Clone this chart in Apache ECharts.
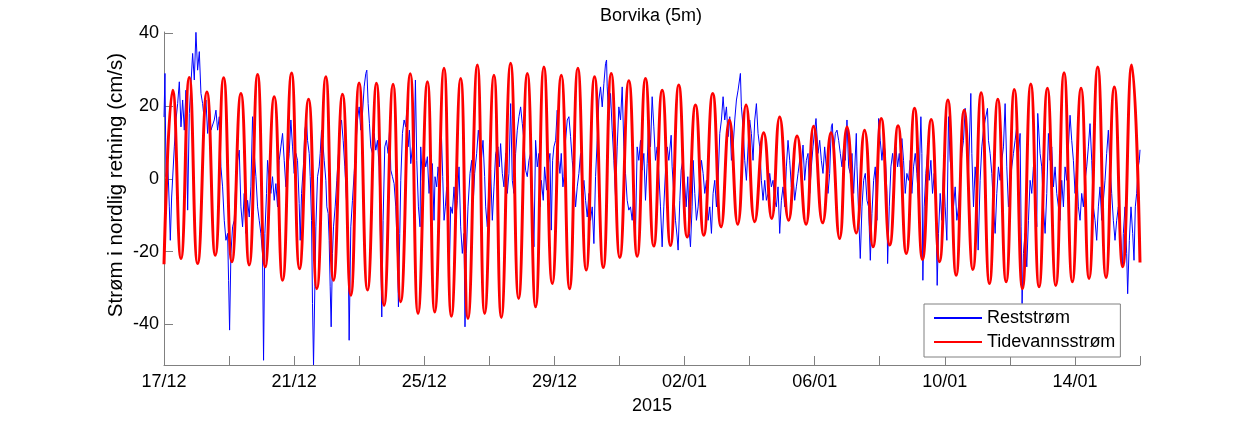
<!DOCTYPE html>
<html>
<head>
<meta charset="utf-8">
<script src="https://cdn.jsdelivr.net/npm/echarts@6/dist/echarts.min.js"></script>
<style>
  html, body { margin: 0; padding: 0; background: #fff; }
  #chart { width: 1259px; height: 421px; }
</style>
</head>
<body>
<div id="chart"></div>
<script>
// x is days since 17/12/2014 00:00, y is cm/s
const xTickDays = [0, 2, 4, 6, 8, 10, 12, 14, 16, 18, 20, 22, 24, 26, 28, 30]
const xLabelDays = [0, 4, 8, 12, 16, 20, 24, 28]
const xTickLabels = ['17/12', '21/12', '25/12', '29/12', '02/01', '06/01', '10/01', '14/01']
const yTickValues = [-40, -20, 0, 20, 40]

// tidevannsstrøm: turning points of the tidal curve [day, cm/s]
const tidePoints = [
  [0, -23.5], [0.267, 24.4], [0.522, -21.9], [0.777, 27.9], [1.035, -23.3], [1.320, 23.9],
  [1.575, -21.0], [1.833, 27.8], [2.088, -22.8], [2.364, 23.5], [2.619, -23.7], [2.877, 28.7],
  [3.111, -24.2], [3.387, 22.6], [3.645, -27.9], [3.921, 29.1], [4.167, -24.7], [4.443, 21.9],
  [4.698, -30.2], [4.974, 28.1], [5.211, -27.9], [5.487, 23.3], [5.742, -32.0], [5.997, 26.4],
  [6.255, -30.6], [6.531, 26.3], [6.765, -34.8], [7.041, 26.0], [7.277, -33.8], [7.569, 28.9],
  [7.809, -37.0], [8.097, 26.7], [8.321, -36.6], [8.607, 30.4], [8.834, -37.8], [9.120, 27.6],
  [9.344, -38.4], [9.632, 31.3], [9.857, -37.0], [10.142, 28.5], [10.369, -38.1], [10.655, 31.8],
  [10.901, -32.9], [11.168, 29.0], [11.423, -35.2], [11.678, 30.8], [11.935, -28.8], [12.212, 28.5],
  [12.467, -30.2], [12.722, 30.4], [12.979, -25.1], [13.234, 28.1], [13.502, -24.4], [13.747, 29.0],
  [14.011, -21.6], [14.288, 27.0], [14.545, -21.3], [14.800, 27.6], [15.055, -18.5], [15.313, 24.4],
  [15.568, -18.3], [15.823, 25.8], [16.081, -16.0], [16.336, 20.3], [16.591, -15.5], [16.867, 23.5],
  [17.125, -13.2], [17.380, 16.2], [17.635, -12.5], [17.892, 20.3], [18.157, -11.8], [18.433, 12.7],
  [18.679, -10.9], [18.924, 17.0], [19.201, -11.4], [19.458, 11.8], [19.735, -12.5], [19.968, 14.5],
  [20.245, -12.1], [20.502, 12.7], [20.767, -16.4], [20.994, 14.3], [21.279, -14.9], [21.534, 13.4],
  [21.792, -18.7], [22.047, 16.6], [22.308, -18.2], [22.563, 14.6], [22.815, -20.5], [23.070, 19.4],
  [23.315, -22.2], [23.582, 16.3], [23.837, -22.8], [24.095, 21.7], [24.350, -26.5], [24.596, 18.9],
  [24.862, -24.9], [25.117, 23.7], [25.373, -28.8], [25.630, 21.9], [25.885, -28.3], [26.137, 24.6],
  [26.386, -30.2], [26.643, 26.1], [26.898, -29.7], [27.153, 24.9], [27.411, -29.3], [27.666, 29.2],
  [27.921, -28.3], [28.188, 24.9], [28.434, -27.4], [28.701, 30.8], [28.956, -27.1], [29.211, 25.3],
  [29.468, -24.2], [29.745, 31.3], [30.0, -23.0]
]

// reststrøm [day, cm/s]
const restPoints = [
  [0, 17], [0.03, 29], [0.061, 0.6], [0.113, 5.1], [0.164, -7.7], [0.194, -16.9], [0.235, -5.0],
  [0.317, 8.8], [0.368, 16.2], [0.420, 20.7], [0.471, 26.7], [0.522, 14.3], [0.573, 21.7],
  [0.624, 13.4], [0.675, 24.4], [0.727, -8.6], [0.778, 18.0], [0.829, 26.2], [0.880, 34.5],
  [0.931, 27.2], [0.982, 40.3], [1.033, 29.9], [1.085, 35.0], [1.136, 23.5], [1.187, 20.7],
  [1.238, 16.2], [1.289, 21.7], [1.341, 12.5], [1.392, 19.8], [1.443, 13.4], [1.545, 16.2],
  [1.597, 18.9], [1.648, 13.4], [1.699, 17.1], [1.750, 3.3], [1.801, -2.2], [1.852, -11.4],
  [1.904, -16.9], [1.955, -15.0], [1.985, -27.9], [2.016, -41.6], [2.057, -20.5], [2.108, -13.2],
  [2.159, -11.4], [2.211, -0.4], [2.262, 5.1], [2.313, 7.9], [2.364, -7.7], [2.415, -13.2],
  [2.466, -4.0], [2.518, -15.0], [2.569, -5.9], [2.620, -10.5], [2.671, -2.2], [2.722, 17.1],
  [2.774, 7.0], [2.825, 0.6], [2.876, -7.7], [2.927, -11.4], [2.978, -15.0], [3.029, -20.5],
  [3.060, -49.9], [3.101, -15.0], [3.152, -4.0], [3.183, 5.1], [3.234, -0.4], [3.285, -4.0],
  [3.336, 0.6], [3.388, -5.9], [3.439, -1.3], [3.490, -7.7], [3.541, 5.1], [3.592, 8.8],
  [3.644, 12.5], [3.695, 5.1], [3.746, -2.2], [3.797, 1.5], [3.848, 7.0], [3.900, 16.2],
  [3.951, 8.8], [4.002, 1.5], [4.053, 7.0], [4.104, 5.1], [4.155, -6.8],
  [4.187, -16.9], [4.228, -4.0], [4.289, 4.2], [4.330, 13.4], [4.381, 16.2], [4.412, 10.6],
  [4.463, 7.0], [4.494, 0.6], [4.535, -11.4], [4.565, -34.3], [4.596, -51.2], [4.637, -29.7],
  [4.668, -13.2], [4.719, 0.6], [4.770, 3.3], [4.801, 7.0], [4.842, 13.4], [4.893, 8.8],
  [4.924, 5.1], [4.975, -0.4], [5.005, -7.7], [5.046, -9.5], [5.077, -16.9], [5.108, -29.7],
  [5.138, -40.7], [5.179, -20.5], [5.210, -13.2], [5.261, -7.7], [5.312, -0.4], [5.364, 7.0],
  [5.415, 14.3], [5.456, 16.2], [5.507, 10.6], [5.558, 3.3], [5.599, -4.0], [5.640, -11.4],
  [5.660, -18.7], [5.691, -44.4], [5.742, -13.2], [5.793, -5.9], [5.845, 1.5], [5.896, 8.8],
  [5.947, 16.2], [5.998, 19.8], [6.049, 13.4], [6.101, 18.0], [6.152, 25.3], [6.203, 29.0],
  [6.234, 29.9], [6.275, 20.7], [6.315, 15.2], [6.356, 8.8], [6.408, 7.0], [6.459, 12.5],
  [6.510, 7.9], [6.561, 10.6], [6.612, 3.3], [6.663, -20.5], [6.694, -38.0], [6.735, -11.4],
  [6.786, 8.8], [6.837, 10.6], [6.889, 7.0], [6.940, 14.3], [6.971, 2.4], [7.022, 0.6],
  [7.073, -1.3], [7.124, -7.7], [7.175, -20.5], [7.206, -35.2], [7.247, -15.0], [7.278, -0.4],
  [7.329, 12.5], [7.380, 16.2], [7.431, 14.3], [7.462, 18.9], [7.503, 8.8], [7.544, 13.4],
  [7.585, 4.2], [7.636, 8.8], [7.687, 5.1], [7.728, 27.2], [7.769, 5.1], [7.820, -7.7],
  [7.871, -13.2],
  [7.891, 8.8], [7.942, -0.4], [7.993, 7.0], [8.045, 3.3], [8.096, 6.1], [8.147, -4.0],
  [8.198, 2.4], [8.249, 4.2], [8.300, -11.4], [8.331, 0.6], [8.382, -2.2], [8.423, 3.3],
  [8.485, -0.4], [8.526, 12.5], [8.567, 0.6], [8.608, -11.4], [8.648, -7.7], [8.689, -2.2],
  [8.730, -13.2], [8.761, -29.7], [8.812, -7.7], [8.863, -9.5], [8.915, -2.2], [8.966, -11.4],
  [9.017, -5.9], [9.068, 3.3], [9.119, -13.2], [9.170, -20.5], [9.222, -15.0], [9.252, -40.7],
  [9.293, -20.5], [9.344, -7.7], [9.406, 1.5], [9.457, 5.1], [9.508, -5.9], [9.549, 1.5],
  [9.611, 7.0], [9.662, 13.4], [9.713, 8.8], [9.754, 5.1], [9.805, 10.6], [9.856, 0.6],
  [9.887, -7.7], [9.938, -13.2], [9.979, -4.0], [10.040, 2.4], [10.092, -11.4], [10.143, -2.2],
  [10.194, 7.0], [10.266, 8.8], [10.306, 3.3], [10.347, 9.7], [10.399, 1.5], [10.450, -2.2],
  [10.501, 7.0], [10.552, -4.0], [10.603, 1.5], [10.655, 20.7], [10.706, -0.4], [10.757, -4.0],
  [10.808, 7.0], [10.859, 13.4], [10.910, 17.1], [10.962, 19.8], [11.013, 15.2], [11.064, 10.6],
  [11.115, 2.4], [11.166, 0.6], [11.217, 5.1], [11.269, 7.0], [11.320, -4.0], [11.371, -18.7],
  [11.422, 10.6], [11.473, 3.3], [11.524, 7.0],
  [11.556, -7.7], [11.597, -0.4], [11.658, -5.9], [11.699, 3.3], [11.760, -3.1], [11.801, 3.3],
  [11.863, 7.0], [11.904, -14.1], [11.945, 5.1], [11.985, 8.8], [12.037, 10.6], [12.088, 18.9],
  [12.129, 5.1], [12.170, 1.5], [12.211, 7.0], [12.262, -2.2], [12.293, 0.6], [12.344, 10.6],
  [12.395, 16.2], [12.446, 17.1], [12.497, 11.6], [12.548, 5.1], [12.600, -0.4], [12.651, -7.7],
  [12.702, -2.2], [12.753, 1.5], [12.804, 7.0], [12.855, -4.0], [12.907, -0.4], [12.958, -5.9],
  [13.009, -10.5], [13.060, -4.0], [13.111, -11.4], [13.162, -7.7], [13.214, -17.8], [13.265, 0.6],
  [13.316, 10.6], [13.367, 21.7], [13.418, 25.3], [13.470, 19.8], [13.521, 26.2], [13.572, 31.7],
  [13.603, 32.7], [13.623, 25.3], [13.674, 16.2], [13.725, 23.5], [13.777, 13.4], [13.828, 5.1],
  [13.879, -4.9], [13.930, 8.8], [13.981, 19.8], [14.033, 16.2], [14.084, 25.3], [14.135, 8.8],
  [14.186, 1.5], [14.237, -5.9], [14.288, -8.6], [14.339, -7.7], [14.391, -11.4], [14.442, -4.0],
  [14.493, -15.0], [14.544, 8.8], [14.595, 5.1], [14.647, 10.6], [14.698, 2.4], [14.749, 7.0],
  [14.800, -5.9], [14.851, 4.2], [14.902, 16.2], [14.954, 8.8], [15.005, 22.6], [15.056, 14.3],
  [15.107, 5.1], [15.158, 8.8], [15.210, 1.5],
  [15.261, -7.7], [15.312, -18.7], [15.363, -7.7], [15.415, 2.4], [15.466, 8.8], [15.517, 5.1],
  [15.589, 12.0], [15.619, 3.3], [15.670, -4.0], [15.722, -11.4], [15.773, -16.0], [15.803, -19.6],
  [15.855, -5.9], [15.896, 2.4], [15.947, 5.1], [15.998, -0.4], [16.049, -7.7], [16.100, 0.6],
  [16.151, -15.0], [16.182, -18.7], [16.233, -7.7], [16.264, 5.1], [16.315, -4.0], [16.366, -11.4],
  [16.418, -7.7], [16.469, -0.4], [16.520, 5.1], [16.571, 1.5], [16.622, -4.0], [16.673, -0.4],
  [16.725, -11.4], [16.776, -7.7], [16.827, -15.0], [16.878, -4.0], [16.929, -0.4], [16.981, -7.7],
  [17.032, -0.4], [17.083, 12.5], [17.134, 16.2], [17.185, 22.6], [17.236, 16.2], [17.288, 19.8],
  [17.339, 11.6], [17.390, 17.1], [17.441, 5.1], [17.492, 8.8], [17.544, 16.2], [17.595, 21.7],
  [17.646, 24.4], [17.717, 29.0], [17.748, 19.8], [17.799, 14.3], [17.850, 5.1], [17.902, -0.4],
  [17.953, 8.8], [18.004, 16.2], [18.055, 12.5], [18.106, 5.1], [18.158, 16.2], [18.209, 20.7],
  [18.260, 12.5], [18.311, 8.8], [18.362, -0.4], [18.413, -5.9], [18.465, -0.4], [18.516, -5.9],
  [18.567, -4.0], [18.618, 1.5], [18.669, -2.2], [18.720, -0.4], [18.771, -5.9], [18.823, -7.7],
  [18.874, -2.2], [18.925, -15.0],
  [18.977, -5.9], [19.028, -2.2], [19.079, -7.7], [19.130, 3.3], [19.181, 10.6], [19.233, 5.1],
  [19.284, -2.2], [19.335, 1.5], [19.386, -5.9], [19.437, -2.2], [19.489, 1.5], [19.540, 5.1],
  [19.591, 3.3], [19.642, 9.3], [19.693, -0.4], [19.744, 5.1], [19.796, 7.0], [19.847, -4.0],
  [19.898, 3.3], [19.949, 8.8], [20.000, 13.4], [20.041, 16.6], [20.103, 7.0], [20.154, 10.6],
  [20.205, 5.1], [20.256, 1.5], [20.307, 8.8], [20.358, 3.3], [20.410, -4.0], [20.461, 1.5],
  [20.512, 14.3], [20.543, 15.2], [20.584, 7.0], [20.635, 12.5], [20.686, 13.4], [20.737, 10.6],
  [20.788, 7.0], [20.840, 3.3], [20.891, 8.8], [20.942, 5.1], [20.993, 16.2], [21.044, 3.3],
  [21.095, 1.5], [21.147, 7.0], [21.198, -4.0], [21.280, 12.5], [21.300, 3.3], [21.351, -9.5],
  [21.402, -21.9], [21.454, -7.7], [21.505, -0.4], [21.556, 1.5], [21.607, -5.9], [21.658, -7.7],
  [21.710, -22.4], [21.761, -9.5], [21.812, -0.4], [21.863, 3.3], [21.914, -11.4], [21.965, 16.6],
  [22.017, 10.6], [22.068, 5.1], [22.119, 10.6], [22.170, 7.0], [22.221, -4.0], [22.242, -23.3],
  [22.293, -7.7], [22.344, 3.3], [22.395, 7.0], [22.446, 1.5], [22.497, 8.8], [22.549, 3.3],
  [22.600, 7.0],
  [22.630, 3.3], [22.681, 11.1], [22.732, 5.1], [22.784, -4.0], [22.835, 1.5], [22.886, -0.4],
  [22.937, 5.1], [22.988, -4.0], [23.039, 3.3], [23.091, 7.0], [23.142, 1.5], [23.193, -5.9],
  [23.265, 17.1], [23.295, 7.0], [23.326, -27.9], [23.367, -7.7], [23.418, 1.5], [23.469, 7.0],
  [23.521, -0.4], [23.572, 5.1], [23.623, -4.0], [23.674, 1.5], [23.725, -7.7], [23.766, -29.3],
  [23.807, -15.0], [23.858, -4.0], [23.909, -11.4], [23.961, 3.3], [24.012, -7.7], [24.063, -16.9],
  [24.114, 17.1], [24.165, 5.1], [24.216, 1.5], [24.268, -7.7], [24.319, -2.2], [24.370, -11.4],
  [24.421, -7.7], [24.472, -0.4], [24.524, 7.0], [24.575, 10.6], [24.626, 19.4], [24.677, 8.8],
  [24.728, 1.5], [24.800, 23.5], [24.831, 7.0], [24.882, -7.7], [24.933, 3.3], [24.984, -4.0],
  [25.025, -19.6], [25.086, -0.4], [25.138, 8.8], [25.189, 13.4], [25.240, 16.2], [25.312, 19.4],
  [25.342, 10.6], [25.393, 7.0], [25.445, 1.5], [25.496, -7.7], [25.547, -15.0], [25.598, -4.0],
  [25.649, 3.3], [25.700, -0.4], [25.752, 5.1], [25.803, 8.8], [25.854, 20.7], [25.905, 3.3],
  [25.956, -7.7], [26.007, -2.2], [26.059, 3.3], [26.110, 7.0], [26.161, 10.6], [26.212, 14.3],
  [26.263, 7.0], [26.314, 12.5],
  [26.346, -13.2], [26.376, -34.3], [26.417, -20.5], [26.469, -15.0], [26.520, -24.2], [26.571, -11.4],
  [26.622, -0.4], [26.673, -4.0], [26.724, 3.3], [26.776, -2.2], [26.827, -13.2], [26.857, 18.0],
  [26.929, 7.0], [26.980, 3.3], [27.032, -7.7], [27.083, -15.0], [27.134, -4.0], [27.185, 12.5],
  [27.236, 5.1], [27.287, 8.8], [27.339, -2.2], [27.390, 3.3], [27.441, -4.0], [27.492, -7.7],
  [27.543, -11.4], [27.594, -0.4], [27.646, -7.7], [27.697, 3.3], [27.748, -0.4], [27.799, 8.8],
  [27.850, 17.5], [27.901, 10.6], [27.953, 5.1], [28.004, -4.0], [28.055, 3.3], [28.106, -7.7],
  [28.157, -11.4], [28.208, -4.0], [28.260, -7.7], [28.311, -0.4], [28.362, 3.3], [28.413, 8.8],
  [28.464, 15.2], [28.516, 5.1], [28.567, -7.7], [28.618, -11.4], [28.669, -16.9], [28.720, -7.7],
  [28.771, -2.2], [28.823, -11.4], [28.874, -5.9], [28.925, -0.4], [28.976, 7.0], [29.027, 13.4],
  [29.079, 3.3], [29.130, -4.0], [29.181, -11.4], [29.232, -16.9], [29.283, -11.4], [29.334, -7.7],
  [29.386, -13.2], [29.467, -24.2], [29.488, -15.0], [29.539, -7.7], [29.590, -20.5], [29.621, -31.6],
  [29.672, -16.9], [29.723, -7.7], [29.775, -15.0], [29.816, -22.4], [29.856, -7.7], [29.897, -4.0],
  [29.948, 3.3], [29.979, 5.1], [30.0, 8.0]
]

const font = "'Liberation Sans', Arial, Helvetica, sans-serif"
const axisGray = '#808080'

const chart = echarts.init(document.getElementById('chart'))

const option = {
  animation: false,
  backgroundColor: '#fff',
  title: {
    text: 'Borvika (5m)',
    left: 646,
    textAlign: 'center',
    top: 2,
    textStyle: { fontFamily: font, fontSize: 18, fontWeight: 'normal', color: '#000' }
  },
  // y-axis title, placed where the reference has it
  graphic: [
    {
      type: 'text',
      x: 116,
      y: 185,
      rotation: Math.PI / 2,
      style: {
        text: 'Strøm i nordlig retning (cm/s)',
        font: "20.5px 'Liberation Sans', Arial, sans-serif",
        fill: '#000',
        textAlign: 'center',
        textVerticalAlign: 'middle'
      }
    }
  ],
  legend: {
    orient: 'vertical',
    left: 924,
    top: 304,
    padding: [5, 5, 6, 9],
    itemGap: 6,
    itemWidth: 48,
    itemHeight: 18,
    backgroundColor: '#fff',
    borderColor: axisGray,
    borderWidth: 1,
    borderRadius: 0,
    itemStyle: { opacity: 0 },
    textStyle: { fontFamily: font, fontSize: 18, color: '#000' },
    data: ['Reststrøm', 'Tidevannsstrøm']
  },
  grid: {
    left: 164,
    right: 119,
    top: 32,
    bottom: 56,
    outerBoundsMode: 'none'
  },
  xAxis: {
    type: 'value',
    min: 0,
    max: 30,
    name: '2015',
    nameLocation: 'middle',
    nameGap: 32,
    nameTextStyle: { fontFamily: font, fontSize: 18, color: '#000' },
    axisLine: { show: true, onZero: false, lineStyle: { color: axisGray, width: 1 } },
    axisTick: { show: true, inside: true, length: 9, customValues: xTickDays, lineStyle: { color: axisGray } },
    axisLabel: {
      customValues: xLabelDays,
      margin: 8,
      fontFamily: font,
      fontSize: 18,
      color: '#000',
      formatter: (v) => xTickLabels[xLabelDays.indexOf(v)]
    },
    splitLine: { show: false }
  },
  yAxis: {
    type: 'value',
    min: -51.2,
    max: 40.4,
    axisLine: { show: true, onZero: false, lineStyle: { color: axisGray, width: 1 } },
    axisTick: { show: true, inside: true, length: 9, customValues: yTickValues, lineStyle: { color: axisGray } },
    axisLabel: {
      customValues: yTickValues,
      margin: 5,
      fontFamily: font,
      fontSize: 18,
      color: '#000'
    },
    splitLine: { show: false }
  },
  series: [
    {
      name: 'Reststrøm',
      type: 'line',
      data: restPoints,
      symbol: 'none',
      lineStyle: { color: '#0000ff', width: 1 },
      itemStyle: { color: '#0000ff' },
      z: 2
    },
    {
      name: 'Tidevannsstrøm',
      type: 'line',
      data: tidePoints,
      symbol: 'none',
      smooth: 0.5,
      lineStyle: { color: '#ff0000', width: 3 },
      itemStyle: { color: '#ff0000' },
      z: 3
    }
  ]
}

chart.setOption(option)
</script>
</body>
</html>
